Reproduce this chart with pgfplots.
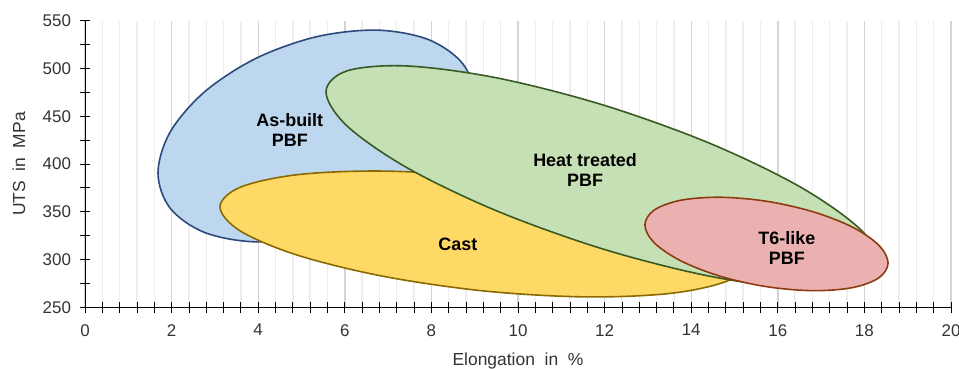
\documentclass[border=0pt]{standalone}
\usepackage{fontspec}
\setmainfont{Liberation Sans}
\usepackage{pgfplots}
\pgfplotsset{compat=1.18}
\definecolor{blueF}{HTML}{BDD7EE}
\definecolor{blueE}{HTML}{2E4A7D}
\definecolor{yelF}{HTML}{FFD966}
\definecolor{yelE}{HTML}{8A6A00}
\definecolor{grnF}{HTML}{C5E0B4}
\definecolor{grnE}{HTML}{3A5A24}
\definecolor{redF}{HTML}{EBB1B1}
\definecolor{redE}{HTML}{8E3B12}
\definecolor{majg}{HTML}{D4D4D4}
\definecolor{ming}{HTML}{EDEDED}
\definecolor{txt}{HTML}{333333}
\begin{document}
\begin{tikzpicture}
\begin{axis}[
  scale only axis,
  width=866bp, height=286.6bp,
  at={(0,0)}, anchor=south west,
  xmin=0, xmax=20, ymin=250, ymax=550,
  axis x line*=bottom, axis y line*=left,
  axis line style={black, line width=0.9bp},
  xtick={0,2,...,20}, ytick={250,300,...,550},
  minor x tick num=4, minor y tick num=1,
  tick align=center,
  major tick length=11bp, minor tick length=11bp,
  tick style={black, line width=0.8bp},
  xmajorgrids, xminorgrids,
  major grid style={majg, line width=1.4bp},
  minor grid style={ming, line width=1.4bp},
  /pgf/number format/assume math mode=true,
  tick label style={font=\fontsize{17}{19}\selectfont, text=txt},
  xticklabel style={yshift=-8bp},
  yticklabel style={xshift=-5bp},
  xlabel={Elongation~ in~ \%},
  ylabel={UTS~ in~ MPa},
  label style={font=\fontsize{17.5}{19}\selectfont, text=txt},
  xlabel style={at={(axis description cs:0.5,0)}, anchor=base, yshift=-58.4bp},
  ylabel style={at={([xshift=-66bp]axis description cs:0,0.5)}, anchor=center},
  clip=false,
  every axis plot/.append style={line width=1.6bp, smooth cycle, tension=0.55},
]
% As-built PBF
\addplot[draw=blueE, fill=blueF] coordinates {
(9.006,468.0) (8.727,504.8) (7.934,530.2) (6.747,540.1) (5.346,533.2) (3.945,510.5)
(2.758,475.4) (1.965,433.3) (1.686,390.6) (1.965,353.8) (2.758,328.4) (3.945,318.5)
(5.346,325.4) (6.747,348.1) (7.934,383.2) (8.727,425.3)};
% Cast
\addplot[draw=yelE, fill=yelF] coordinates {
(15.312,298.4) (14.848,323.4) (13.526,348.8) (11.548,370.9) (9.215,386.3) (6.882,392.6)
(4.904,388.8) (3.582,375.6) (3.118,355.0) (3.582,330.0) (4.904,304.6) (6.882,282.5)
(9.215,267.1) (11.548,260.9) (13.526,264.6) (14.848,277.8)};
% Heat treated PBF
\addplot[draw=grnE, fill=grnF] coordinates {
(18.360,297.4) (17.873,333.0) (16.486,376.8) (14.411,422.0) (11.963,461.8) (9.515,490.1)
(7.440,502.6) (6.053,497.5) (5.566,475.4) (6.053,439.8) (7.440,396.0) (9.515,350.8)
(11.963,311.0) (14.411,282.7) (16.486,270.2) (17.873,275.4)};
% T6-like PBF
\addplot[draw=redE, fill=redF] coordinates {
(18.547,296.4) (18.333,315.0) (17.725,333.9) (16.814,350.0) (15.739,361.0) (14.664,365.2)
(13.753,362.0) (13.145,351.8) (12.931,336.2) (13.145,317.6) (13.753,298.8) (14.664,282.6)
(15.739,271.6) (16.814,267.4) (17.725,270.6) (18.333,280.8)};
\begin{scope}[every node/.style={font=\fontsize{18}{20.5}\selectfont\bfseries, align=center, inner sep=0pt}]
\node at (axis cs:4.73,435.6) {As-built\\PBF};
\node at (axis cs:11.55,393.7) {Heat treated\\PBF};
\node at (axis cs:8.61,316.3) {Cast};
\node at (axis cs:16.21,312.1) {T6-like\\PBF};
\end{scope}
\end{axis}
\pgfresetboundingbox
\path (-85bp,-61.7bp) rectangle (874bp,307.3bp);
\end{tikzpicture}
\end{document}
